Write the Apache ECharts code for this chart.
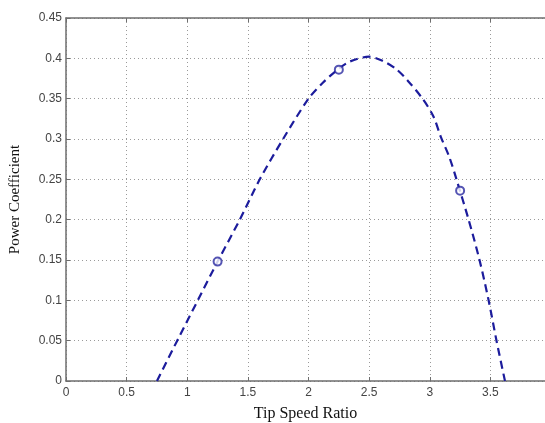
<!DOCTYPE html>
<html>
<head>
<meta charset="utf-8">
<script src="https://cdn.jsdelivr.net/npm/echarts@6/dist/echarts.min.js"></script>
<style>html,body{margin:0;padding:0;background:#fff}#c{width:545px;height:423px}</style>
</head>
<body>
<div id="c"></div>
<script>
// Tip speed ratio vs power coefficient
var curveX = [0.75, 0.917, 1.087, 1.25, 1.433, 1.598, 1.79, 2.0, 2.12, 2.24, 2.34, 2.5, 2.61, 2.72, 2.82, 2.94, 3.03, 3.09, 3.16, 3.22, 3.32, 3.41, 3.485, 3.55, 3.62];
var curveY = [0.0, 0.05, 0.10, 0.148, 0.20, 0.25, 0.30, 0.35, 0.37, 0.386, 0.396, 0.402, 0.397, 0.387, 0.372, 0.35, 0.328, 0.303, 0.278, 0.25, 0.20, 0.15, 0.10, 0.05, 0.0];
var markX = [1.25, 2.25, 3.25];
var markY = [0.148, 0.386, 0.236];
var xTicks = [0, 0.5, 1, 1.5, 2, 2.5, 3, 3.5];
var yTicks = [0, 0.05, 0.1, 0.15, 0.2, 0.25, 0.3, 0.35, 0.4, 0.45];

var curve = curveX.map(function (x, i) { return [x, curveY[i]]; });
var marks = markX.map(function (x, i) { return [x, markY[i]]; });

var axisGray = '#6e6e6e';
var gridLine = { show: true, lineStyle: { color: '#9a9a9a', type: [1, 3], width: 1 } };
var labelStyle = { color: '#444', fontFamily: 'Liberation Sans, Arial, sans-serif', fontSize: 12 };

var chart = echarts.init(document.getElementById('c'), null, { renderer: 'canvas' });
chart.setOption({
  animation: false,
  backgroundColor: '#fff',
  grid: { left: 66, top: 18, right: 0, bottom: 42, containLabel: false, outerBoundsMode: 'none' },
  xAxis: [{
    type: 'value', min: 0, max: 3.95, interval: 0.5,
    axisLine: { show: true, lineStyle: { color: axisGray, width: 1.5 } },
    axisTick: { show: true, inside: true, length: 4, lineStyle: { color: axisGray } },
    axisLabel: Object.assign({ margin: 6, showMaxLabel: false,
      formatter: function (v) { return xTicks.indexOf(v) >= 0 ? String(v) : ''; } }, labelStyle),
    splitLine: gridLine,
    name: 'Tip Speed Ratio', nameLocation: 'middle', nameGap: 25,
    nameTextStyle: { fontFamily: 'Liberation Serif, Times New Roman, serif', fontSize: 16, color: '#111' }
  }, {
    type: 'value', position: 'top', min: 0, max: 3.95, interval: 0.5,
    axisLine: { show: true, lineStyle: { color: axisGray, width: 1.5 } },
    axisTick: { show: true, inside: true, length: 4, lineStyle: { color: axisGray } },
    axisLabel: { show: false }, splitLine: { show: false }
  }],
  yAxis: {
    type: 'value', min: 0, max: 0.45, interval: 0.05,
    axisLine: { show: true, lineStyle: { color: axisGray, width: 1.5 } },
    axisTick: { show: true, inside: true, length: 4, lineStyle: { color: axisGray } },
    axisLabel: Object.assign({ margin: 4,
      formatter: function (v) { return String(Math.round(v * 100) / 100); } }, labelStyle),
    splitLine: gridLine,
    name: 'Power Coefficient', nameLocation: 'middle', nameGap: 43, nameRotate: 90,
    nameTextStyle: { fontFamily: 'Liberation Serif, Times New Roman, serif', fontSize: 15, color: '#111' }
  },
  series: [{
    type: 'line', data: curve, smooth: 0.3, showSymbol: false,
    lineStyle: { color: '#1c1c9c', width: 2.2, type: [8, 5] }, z: 3
  }, {
    type: 'scatter', data: marks, symbol: 'emptyCircle', symbolSize: 8,
    itemStyle: { color: '#2a2aa0', borderColor: '#2a2aa0', borderWidth: 0.8 }, z: 4
  }]
});
</script>
</body>
</html>
